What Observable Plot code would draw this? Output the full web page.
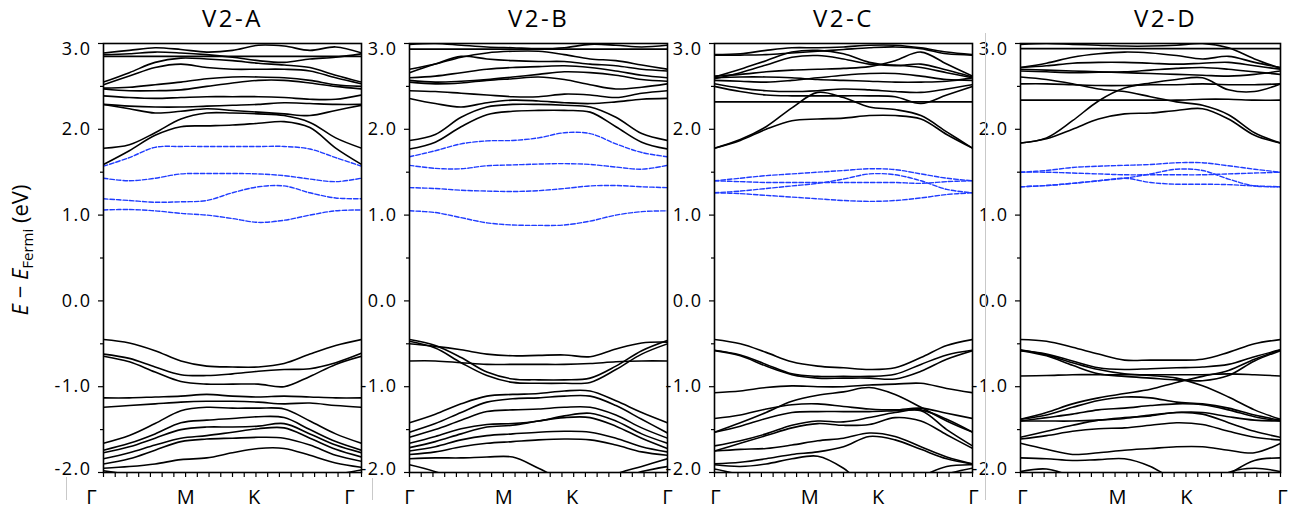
<!DOCTYPE html>
<html><head><meta charset="utf-8">
<script src="https://cdn.jsdelivr.net/npm/d3@7"></script>
<script src="https://cdn.jsdelivr.net/npm/@observablehq/plot@0.6"></script>
<style>
body{margin:0;background:#fff;}
#wrap{position:relative;width:1295px;height:514px;overflow:hidden;background:#fff;}
#wrap svg{position:absolute;left:0;top:0;}
.art{position:absolute;width:1px;background:#c9c9c9;}
</style></head><body><div id="wrap"></div>
<script>
// ---------- data ----------
const kFrac = [0, 0.1, 0.2, 0.3, 0.4, 0.5, 0.6, 0.7, 0.8, 0.9, 1];
const panelTitles = ["V2-A", "V2-B", "V2-C", "V2-D"];
const symLabels = ["Γ", "M", "K", "Γ"];
const symPos = [0, 0.365, 0.63, 1];
const yMajor = [-2, -1, 0, 1, 2, 3];
const yMinor = [-1.5, -0.5, 0.5, 1.5, 2.5];
const kTicks = [0,1,2,3,4,5,6,7,8,9,10,11,12,13,14,15,16,17,18,19,20,21,22].map(i => i / 22);

const bandsA = [
  [2.89, 2.92, 2.95, 2.93, 2.90, 2.92, 2.98, 2.97, 2.92, 2.96, 2.89],
  [2.87, 2.88, 2.90, 2.89, 2.87, 2.84, 2.80, 2.78, 2.82, 2.84, 2.88],
  [2.85, 2.85, 2.85, 2.85, 2.85, 2.85, 2.85, 2.85, 2.85, 2.85, 2.85],
  [2.55, 2.66, 2.78, 2.83, 2.82, 2.80, 2.77, 2.75, 2.72, 2.63, 2.55],
  [2.52, 2.62, 2.72, 2.76, 2.72, 2.70, 2.70, 2.70, 2.68, 2.60, 2.53],
  [2.48, 2.49, 2.52, 2.55, 2.59, 2.61, 2.61, 2.60, 2.57, 2.52, 2.50],
  [2.47, 2.45, 2.45, 2.46, 2.50, 2.54, 2.57, 2.57, 2.54, 2.50, 2.47],
  [2.39, 2.37, 2.36, 2.37, 2.38, 2.38, 2.38, 2.37, 2.35, 2.35, 2.40],
  [2.29, 2.27, 2.26, 2.26, 2.27, 2.28, 2.29, 2.31, 2.30, 2.29, 2.29],
  [2.29, 2.24, 2.19, 2.21, 2.24, 2.22, 2.20, 2.18, 2.16, 2.22, 2.28],
  [1.78, 1.82, 1.96, 2.12, 2.19, 2.19, 2.18, 2.16, 2.08, 1.90, 1.78],
  [1.59, 1.75, 1.93, 2.03, 2.04, 2.05, 2.07, 2.09, 2.02, 1.78, 1.59],
  [-0.45, -0.49, -0.58, -0.70, -0.76, -0.77, -0.77, -0.73, -0.62, -0.52, -0.45],
  [-0.62, -0.67, -0.77, -0.86, -0.87, -0.85, -0.82, -0.80, -0.79, -0.72, -0.61],
  [-0.645, -0.71, -0.83, -0.94, -0.97, -0.97, -0.97, -1.00, -0.88, -0.74, -0.645],
  [-1.13, -1.13, -1.12, -1.11, -1.09, -1.11, -1.12, -1.11, -1.12, -1.13, -1.13],
  [-1.24, -1.22, -1.20, -1.18, -1.17, -1.17, -1.18, -1.20, -1.19, -1.22, -1.24],
  [-1.66, -1.57, -1.43, -1.28, -1.24, -1.25, -1.25, -1.26, -1.40, -1.55, -1.66],
  [-1.74, -1.66, -1.55, -1.42, -1.39, -1.37, -1.35, -1.36, -1.50, -1.64, -1.74],
  [-1.77, -1.70, -1.60, -1.50, -1.47, -1.47, -1.46, -1.43, -1.55, -1.68, -1.77],
  [-1.84, -1.77, -1.68, -1.60, -1.57, -1.53, -1.49, -1.48, -1.60, -1.73, -1.82],
  [-1.90, -1.84, -1.74, -1.64, -1.61, -1.60, -1.59, -1.60, -1.68, -1.80, -1.87],
  [-1.95, -1.93, -1.90, -1.85, -1.83, -1.77, -1.72, -1.72, -1.80, -1.89, -1.94],
  [-1.98, -2.03, -2.12, -2.20, -2.25, -2.30, -2.30, -2.25, -2.12, -2.03, -1.97]
];
const defectA = [
  [1.57, 1.67, 1.79, 1.80, 1.80, 1.80, 1.80, 1.80, 1.77, 1.67, 1.57],
  [1.43, 1.40, 1.43, 1.48, 1.485, 1.485, 1.48, 1.46, 1.42, 1.39, 1.43],
  [1.19, 1.17, 1.15, 1.155, 1.17, 1.26, 1.33, 1.34, 1.26, 1.20, 1.19],
  [1.06, 1.065, 1.05, 1.02, 1.00, 0.96, 0.915, 0.94, 1.00, 1.05, 1.06]
];

const bandsB = [
  [2.99, 3.00, 2.98, 2.96, 2.95, 2.94, 2.95, 2.99, 2.98, 2.96, 2.98],
  [2.935, 2.935, 2.935, 2.935, 2.935, 2.935, 2.935, 2.935, 2.935, 2.935, 2.935],
  [2.70, 2.76, 2.84, 2.89, 2.91, 2.91, 2.87, 2.82, 2.80, 2.75, 2.70],
  [2.66, 2.76, 2.85, 2.82, 2.80, 2.79, 2.79, 2.76, 2.74, 2.70, 2.68],
  [2.60, 2.62, 2.66, 2.70, 2.72, 2.73, 2.74, 2.72, 2.68, 2.63, 2.60],
  [2.57, 2.55, 2.56, 2.58, 2.61, 2.64, 2.67, 2.66, 2.63, 2.58, 2.56],
  [2.55, 2.53, 2.54, 2.57, 2.59, 2.61, 2.58, 2.52, 2.47, 2.49, 2.53],
  [2.45, 2.44, 2.42, 2.40, 2.38, 2.38, 2.41, 2.40, 2.37, 2.42, 2.45],
  [2.36, 2.30, 2.26, 2.31, 2.34, 2.33, 2.31, 2.30, 2.32, 2.35, 2.36],
  [1.87, 1.94, 2.14, 2.26, 2.29, 2.29, 2.28, 2.26, 2.14, 1.95, 1.87],
  [1.77, 1.85, 2.03, 2.17, 2.21, 2.22, 2.22, 2.20, 2.03, 1.85, 1.77],
  [-0.50, -0.53, -0.57, -0.62, -0.64, -0.635, -0.63, -0.65, -0.56, -0.49, -0.48],
  [-0.70, -0.70, -0.72, -0.74, -0.74, -0.74, -0.74, -0.73, -0.71, -0.70, -0.70],
  [-0.45, -0.52, -0.66, -0.83, -0.91, -0.92, -0.92, -0.90, -0.76, -0.58, -0.46],
  [-0.47, -0.55, -0.72, -0.87, -0.95, -0.96, -0.96, -0.95, -0.80, -0.62, -0.50],
  [-1.42, -1.32, -1.20, -1.11, -1.09, -1.08, -1.05, -1.05, -1.165, -1.30, -1.42],
  [-1.53, -1.43, -1.30, -1.18, -1.14, -1.13, -1.11, -1.11, -1.22, -1.38, -1.54],
  [-1.59, -1.50, -1.39, -1.29, -1.27, -1.26, -1.24, -1.24, -1.33, -1.48, -1.60],
  [-1.66, -1.58, -1.49, -1.44, -1.43, -1.40, -1.34, -1.31, -1.40, -1.55, -1.66],
  [-1.71, -1.64, -1.55, -1.47, -1.45, -1.40, -1.36, -1.36, -1.46, -1.60, -1.72],
  [-1.75, -1.70, -1.62, -1.57, -1.55, -1.53, -1.52, -1.53, -1.60, -1.70, -1.76],
  [-1.79, -1.76, -1.70, -1.66, -1.64, -1.62, -1.61, -1.62, -1.68, -1.76, -1.80],
  [-1.84, -1.83, -1.83, -1.82, -1.82, -1.95, -2.10, -2.20, -2.02, -1.93, -1.84],
  [-1.91, -1.99, -2.10, -2.20, -2.30, -2.30, -2.30, -2.20, -2.10, -1.99, -1.93]
];
const defectB = [
  [1.68, 1.75, 1.83, 1.865, 1.87, 1.90, 1.96, 1.95, 1.83, 1.73, 1.68],
  [1.58, 1.545, 1.54, 1.575, 1.585, 1.595, 1.60, 1.59, 1.56, 1.535, 1.58],
  [1.32, 1.31, 1.29, 1.28, 1.275, 1.285, 1.31, 1.34, 1.345, 1.33, 1.32],
  [1.05, 1.03, 0.97, 0.91, 0.885, 0.88, 0.885, 0.93, 1.00, 1.04, 1.05]
];

const bandsC = [
  [2.87, 2.88, 2.92, 2.95, 2.95, 2.96, 2.98, 2.98, 2.95, 2.90, 2.87],
  [2.865, 2.865, 2.87, 2.89, 2.91, 2.93, 2.95, 2.96, 2.94, 2.88, 2.865],
  [2.61, 2.70, 2.80, 2.90, 2.92, 2.88, 2.78, 2.74, 2.76, 2.69, 2.61],
  [2.62, 2.64, 2.67, 2.69, 2.70, 2.71, 2.73, 2.80, 2.90, 2.76, 2.62],
  [2.59, 2.66, 2.75, 2.84, 2.86, 2.82, 2.76, 2.75, 2.72, 2.66, 2.60],
  [2.60, 2.61, 2.61, 2.60, 2.58, 2.57, 2.56, 2.55, 2.55, 2.56, 2.60],
  [2.57, 2.56, 2.55, 2.57, 2.60, 2.63, 2.65, 2.65, 2.62, 2.58, 2.57],
  [2.53, 2.48, 2.45, 2.44, 2.45, 2.47, 2.46, 2.44, 2.43, 2.47, 2.52],
  [2.50, 2.44, 2.40, 2.39, 2.39, 2.39, 2.39, 2.38, 2.30, 2.40, 2.50],
  [2.32, 2.32, 2.32, 2.32, 2.32, 2.32, 2.32, 2.32, 2.32, 2.32, 2.32],
  [1.78, 1.88, 2.03, 2.25, 2.43, 2.37, 2.26, 2.23, 2.16, 1.97, 1.78],
  [1.78, 1.87, 2.00, 2.10, 2.12, 2.13, 2.16, 2.16, 2.12, 1.94, 1.78],
  [-0.45, -0.50, -0.60, -0.71, -0.76, -0.78, -0.80, -0.78, -0.66, -0.52, -0.45],
  [-0.575, -0.63, -0.74, -0.85, -0.88, -0.88, -0.88, -0.855, -0.74, -0.63, -0.575],
  [-0.58, -0.64, -0.76, -0.86, -0.90, -0.90, -0.90, -0.91, -0.82, -0.68, -0.58],
  [-1.07, -1.05, -1.01, -0.99, -1.00, -1.00, -0.98, -0.97, -0.96, -1.02, -1.07],
  [-1.53, -1.42, -1.30, -1.17, -1.10, -1.06, -1.01, -1.09, -1.24, -1.40, -1.53],
  [-1.37, -1.33, -1.26, -1.21, -1.20, -1.23, -1.26, -1.27, -1.25, -1.31, -1.37],
  [-1.53, -1.46, -1.37, -1.30, -1.29, -1.29, -1.29, -1.28, -1.27, -1.38, -1.53],
  [-1.69, -1.63, -1.55, -1.45, -1.40, -1.41, -1.36, -1.30, -1.28, -1.50, -1.69],
  [-1.75, -1.66, -1.57, -1.48, -1.43, -1.45, -1.44, -1.36, -1.40, -1.56, -1.72],
  [-1.75, -1.73, -1.72, -1.68, -1.63, -1.60, -1.54, -1.58, -1.70, -1.82, -1.90],
  [-1.90, -1.88, -1.84, -1.79, -1.76, -1.70, -1.58, -1.62, -1.73, -1.84, -1.90],
  [-1.91, -1.93, -1.90, -1.84, -1.81, -1.95, -2.20, -2.20, -2.05, -1.93, -1.91],
  [-1.96, -2.03, -2.15, -2.25, -2.30, -2.30, -2.30, -2.25, -2.15, -2.02, -1.95]
];
const defectC = [
  [1.40, 1.43, 1.46, 1.48, 1.50, 1.52, 1.54, 1.53, 1.48, 1.43, 1.40],
  [1.26, 1.28, 1.31, 1.34, 1.37, 1.42, 1.48, 1.47, 1.40, 1.30, 1.26],
  [1.40, 1.39, 1.38, 1.38, 1.38, 1.38, 1.38, 1.38, 1.37, 1.39, 1.40],
  [1.26, 1.25, 1.23, 1.21, 1.19, 1.17, 1.16, 1.17, 1.20, 1.24, 1.26]
];

const bandsD = [
  [2.99, 3.00, 2.99, 2.98, 2.97, 2.97, 2.98, 3.00, 2.95, 2.82, 2.71],
  [2.94, 2.94, 2.94, 2.94, 2.94, 2.94, 2.94, 2.94, 2.94, 2.94, 2.94],
  [2.72, 2.77, 2.84, 2.88, 2.90, 2.89, 2.86, 2.82, 2.85, 2.78, 2.72],
  [2.72, 2.74, 2.77, 2.78, 2.78, 2.77, 2.76, 2.77, 2.78, 2.74, 2.70],
  [2.70, 2.69, 2.68, 2.67, 2.66, 2.65, 2.64, 2.63, 2.62, 2.64, 2.68],
  [2.68, 2.67, 2.66, 2.665, 2.67, 2.69, 2.71, 2.72, 2.70, 2.67, 2.64],
  [2.61, 2.58, 2.53, 2.47, 2.44, 2.38, 2.32, 2.28, 2.17, 1.96, 1.84],
  [2.53, 2.53, 2.52, 2.51, 2.51, 2.52, 2.52, 2.53, 2.52, 2.52, 2.53],
  [2.34, 2.34, 2.34, 2.34, 2.34, 2.34, 2.34, 2.35, 2.35, 2.34, 2.34],
  [1.84, 1.90, 2.10, 2.33, 2.48, 2.54, 2.58, 2.60, 2.46, 2.44, 2.53],
  [1.84, 1.89, 2.00, 2.12, 2.18, 2.19, 2.22, 2.24, 2.12, 1.93, 1.84],
  [-0.45, -0.47, -0.54, -0.62, -0.69, -0.69, -0.69, -0.68, -0.60, -0.50, -0.45],
  [-0.58, -0.62, -0.70, -0.78, -0.80, -0.79, -0.78, -0.77, -0.74, -0.65, -0.57],
  [-0.58, -0.64, -0.75, -0.85, -0.88, -0.90, -0.92, -0.93, -0.87, -0.70, -0.58],
  [-0.875, -0.87, -0.86, -0.86, -0.86, -0.86, -0.86, -0.86, -0.85, -0.86, -0.875],
  [-0.57, -0.63, -0.72, -0.80, -0.85, -0.87, -0.90, -0.99, -1.12, -1.27, -1.38],
  [-1.38, -1.30, -1.20, -1.13, -1.08, -1.03, -0.95, -0.88, -0.81, -0.68, -0.57],
  [-1.38, -1.33, -1.24, -1.16, -1.12, -1.13, -1.18, -1.20, -1.25, -1.33, -1.39],
  [-1.40, -1.36, -1.32, -1.27, -1.25, -1.22, -1.20, -1.21, -1.27, -1.35, -1.40],
  [-1.40, -1.40, -1.40, -1.39, -1.37, -1.33, -1.30, -1.30, -1.35, -1.39, -1.40],
  [-1.59, -1.52, -1.45, -1.39, -1.36, -1.34, -1.30, -1.32, -1.42, -1.52, -1.59],
  [-1.61, -1.57, -1.52, -1.49, -1.48, -1.45, -1.42, -1.44, -1.52, -1.59, -1.62],
  [-1.66, -1.73, -1.79, -1.77, -1.74, -1.72, -1.70, -1.70, -1.74, -1.77, -1.66],
  [-1.83, -1.84, -1.86, -1.85, -1.84, -1.93, -2.10, -2.20, -2.02, -1.86, -1.83],
  [-1.99, -1.96, -2.05, -2.20, -2.30, -2.30, -2.30, -2.20, -2.00, -1.95, -1.99]
];
const defectD = [
  [1.50, 1.52, 1.555, 1.57, 1.58, 1.59, 1.61, 1.61, 1.575, 1.535, 1.50],
  [1.50, 1.50, 1.49, 1.48, 1.47, 1.47, 1.47, 1.47, 1.48, 1.49, 1.50],
  [1.33, 1.345, 1.37, 1.40, 1.43, 1.48, 1.535, 1.52, 1.42, 1.34, 1.33],
  [1.33, 1.345, 1.37, 1.40, 1.43, 1.38, 1.36, 1.36, 1.355, 1.34, 1.33]
];

// ---------- layout ----------
const W = 1295, H = 514;
const layout = [
  {left: 103, right: 361, titleDx: 0, labelDx: -12},
  {left: 409, right: 667, titleDx: 0, labelDx: 0},
  {left: 714, right: 972, titleDx: 0, labelDx: 1},
  {left: 1020, right: 1280, titleDx: 15, labelDx: 2}
];
const panels = [
  {title: panelTitles[0], black: bandsA, blue: defectA},
  {title: panelTitles[1], black: bandsB, blue: defectB},
  {title: panelTitles[2], black: bandsC, blue: defectC},
  {title: panelTitles[3], black: bandsD, blue: defectD}
];
const toRows = bands => bands.flatMap((b, i) => b.map((e, j) => ({band: i, k: kFrac[j], e})));
const fmt = d => d.toFixed(1);
const FONT = "'Open Sans', sans-serif";
const wrap = document.getElementById("wrap");

panels.forEach((p, i) => {
  const L = layout[i];
  const svg = Plot.plot({
    width: W, height: H,
    marginLeft: L.left, marginRight: W - L.right, marginTop: 43, marginBottom: 42,
    x: {domain: [0, 1], axis: null},
    y: {domain: [-2, 3], axis: null},
    style: {background: "transparent", fontFamily: FONT, color: "#000", overflow: "visible"},
    marks: [
      Plot.line(toRows(p.black), {x: "k", y: "e", z: "band", stroke: "#000", strokeWidth: 1.6, curve: "catmull-rom", clip: true}),
      Plot.line(toRows(p.blue), {x: "k", y: "e", z: "band", stroke: "#1f3cff", strokeWidth: 1.4, strokeDasharray: "4.5,2", curve: "catmull-rom", clip: true}),
      Plot.frame({stroke: "#000", strokeWidth: 1.6}),
      Plot.axisY({ticks: yMajor, tickSize: 5, tickFormat: () => "", label: null, strokeWidth: 1.2}),
      Plot.axisY({ticks: yMinor, tickSize: 3, tickFormat: () => "", label: null, strokeWidth: 1.2}),
      Plot.axisX({ticks: kTicks, tickSize: 5, tickFormat: () => "", label: null, strokeWidth: 1.2}),
      Plot.text(yMajor.filter(d => d > -2 && d < 3), {y: d => d, text: fmt, frameAnchor: "left", textAnchor: "end", dx: -12, fontSize: 18, fill: "#000"}),
      Plot.text(yMajor.filter(d => d === 3), {y: d => d, text: fmt, frameAnchor: "left", textAnchor: "end", dx: -12, dy: 6, fontSize: 18, fill: "#000"}),
      Plot.text(yMajor.filter(d => d === -2), {y: d => d, text: fmt, frameAnchor: "left", textAnchor: "end", dx: -12, dy: -3, fontSize: 18, fill: "#000"}),
      Plot.text(symLabels, {x: (d, j) => symPos[j], text: d => d, frameAnchor: "bottom", lineAnchor: "top", dy: 17, dx: L.labelDx, fontSize: 20, fill: "#000"}),
      Plot.text([p.title], {text: d => d, frameAnchor: "top", lineAnchor: "top", dy: -34, dx: L.titleDx, fontSize: 24, fill: "#000"})
    ]
  });
  d3.select(svg).selectAll("text").each(function () {
    const t = this.textContent;
    if (/^-?\d\.\d$/.test(t)) this.style.letterSpacing = "1.5px";
    else if (/^V2/.test(t)) this.style.letterSpacing = "2.5px";
  });
  if (i === 0) {
    const lab = d3.select(svg).append("text")
      .attr("transform", "translate(28,250) rotate(-90)")
      .attr("text-anchor", "middle")
      .attr("font-family", FONT)
      .attr("font-size", 22)
      .attr("fill", "#000");
    lab.append("tspan").attr("font-style", "italic").text("E");
    lab.append("tspan").text(" − ");
    lab.append("tspan").attr("font-style", "italic").text("E");
    lab.append("tspan").attr("font-size", 15).attr("dy", 5).text("Fermi");
    lab.append("tspan").attr("dy", -5).text(" (eV)");
  }
  wrap.appendChild(svg);
});

// thin gray separator artifacts visible in the original figure
[[66, 477, 23], [372, 478, 22], [985, 33, 467]].forEach(([x, y, h]) => {
  const d = document.createElement("div");
  d.className = "art";
  d.style.left = x + "px"; d.style.top = y + "px"; d.style.height = h + "px";
  wrap.appendChild(d);
});
</script></body></html>
